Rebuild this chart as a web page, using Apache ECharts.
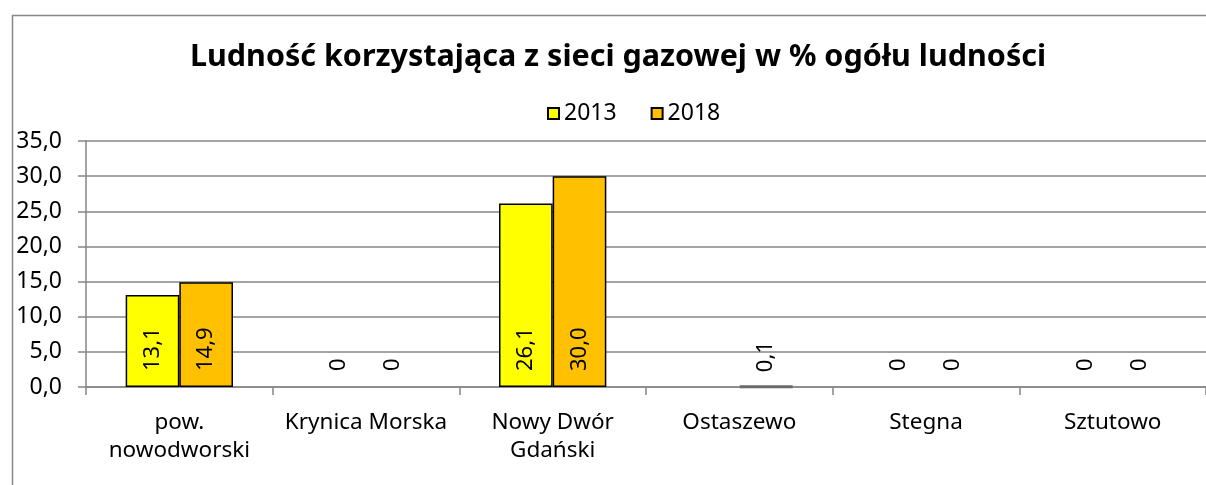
<!DOCTYPE html>
<html>
<head>
<meta charset="utf-8">
<script src="https://cdn.jsdelivr.net/npm/echarts@6/dist/echarts.min.js"></script>
<style>
  html, body { margin: 0; padding: 0; background: #fff; }
  #chart { width: 1206px; height: 485px; }
</style>
</head>
<body>
<div id="chart"></div>
<script>
// Categories and values
const categories = ['pow.\nnowodworski', 'Krynica Morska', 'Nowy Dwór\nGdański', 'Ostaszewo', 'Stegna', 'Sztutowo'];
const values2013 = [13.1, 0, 26.1, null, 0, 0];
const values2018 = [14.9, 0, 30.0, 0.1, 0, 0];
const seriesNames = ['2013', '2018'];
const yTicks = { min: 0, max: 35, interval: 5 };

const FONT = '"Noto Sans", sans-serif';
const GRID_GRAY = '#868686';

const fmtComma = v => v.toFixed(1).replace('.', ',');

const labelStyle = {
  show: true,
  position: 'insideBottom',
  rotate: 90,
  align: 'left',
  verticalAlign: 'middle',
  distance: 16,
  color: '#000',
  fontFamily: FONT,
  fontSize: 22,
  formatter: p => (p.value === 0 ? '0' : fmtComma(p.value))
};

// Zero-height bars get no outline; very thin bars get a grey one
const toItems = arr => arr.map(v => {
  if (v === null) return null;
  if (v === 0) return { value: v, itemStyle: { borderWidth: 0 } };
  if (v < 0.5) return { value: v, itemStyle: { borderColor: '#6a6a6a', borderWidth: 3 } };
  return v;
});

const chart = echarts.init(document.getElementById('chart'), null, { renderer: 'canvas' });

chart.setOption({
  animation: false,
  backgroundColor: '#fff',
  graphic: [{
    type: 'rect',
    left: 10, top: 13,
    shape: { width: 1250, height: 520 },
    style: { fill: 'none', stroke: '#888', lineWidth: 1.5 },
    z: -1
  }],
  title: {
    text: 'Ludność korzystająca z sieci gazowej w % ogółu ludności',
    left: 613,
    textAlign: 'center',
    top: 37,
    textStyle: { fontFamily: FONT, fontWeight: 'bold', fontSize: 30.5, color: '#000' }
  },
  legend: {
    left: 542,
    top: 97,
    itemWidth: 11,
    itemHeight: 11,
    itemGap: 34,
    icon: 'rect',
    textStyle: { fontFamily: FONT, fontSize: 23, color: '#000' },
    data: seriesNames
  },
  grid: { left: 86, right: -8, top: 141, bottom: 98, containLabel: false },
  xAxis: {
    type: 'category',
    data: categories,
    axisLine: { lineStyle: { color: GRID_GRAY, width: 1.5 } },
    axisTick: { show: true, length: 8, lineStyle: { color: GRID_GRAY, width: 1.5 } },
    axisLabel: {
      interval: 0,
      margin: 22,
      color: '#000',
      fontFamily: FONT,
      fontSize: 22.5,
      lineHeight: 28
    }
  },
  yAxis: {
    type: 'value',
    min: yTicks.min,
    max: yTicks.max,
    interval: yTicks.interval,
    axisLine: { show: true, lineStyle: { color: GRID_GRAY, width: 1.5 } },
    axisTick: { show: true, length: 8, lineStyle: { color: GRID_GRAY, width: 1.5 } },
    splitLine: { lineStyle: { color: GRID_GRAY, width: 1.5 } },
    axisLabel: {
      margin: 24,
      color: '#000',
      fontFamily: FONT,
      fontSize: 23,
      formatter: v => fmtComma(v)
    }
  },
  series: [
    {
      name: seriesNames[0],
      type: 'bar',
      data: toItems(values2013),
      barGap: '0%',
      barCategoryGap: '42.5%',
      itemStyle: { color: '#FFFF00', borderColor: '#000', borderWidth: 1.5 },
      label: labelStyle
    },
    {
      name: seriesNames[1],
      type: 'bar',
      data: toItems(values2018),
      barGap: '0%',
      barCategoryGap: '42.5%',
      itemStyle: { color: '#FFC000', borderColor: '#000', borderWidth: 1.5 },
      label: labelStyle
    }
  ]
});
</script>
</body>
</html>
